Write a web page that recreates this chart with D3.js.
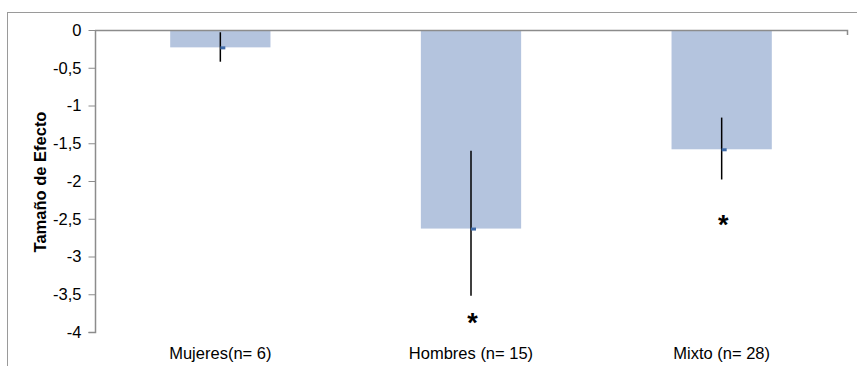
<!DOCTYPE html>
<html>
<head>
<meta charset="utf-8">
<script src="https://cdn.jsdelivr.net/npm/d3@7"></script>
<style>
  html, body { margin: 0; padding: 0; background: #fff; }
  svg { display: block; font-family: "Liberation Sans", Arial, sans-serif; }
</style>
</head>
<body>
<svg id="chart" width="857" height="366"></svg>
<script>
// Effect size by sample group, with confidence interval bounds
const categories = ["Mujeres(n= 6)", "Hombres (n= 15)", "Mixto (n= 28)"];
const effectSize = [-0.23, -2.63, -1.58];
const ciUpper = [-0.03, -1.60, -1.16];
const ciLower = [-0.42, -3.52, -1.98];
// Position of the significance asterisk (null = not significant)
const sigPosition = [null, -3.81, -2.52];
const yTicks = [0, -0.5, -1, -1.5, -2, -2.5, -3, -3.5, -4];

const svg = d3.select("#chart");
const W = 857, H = 366;
const left = 95, plotRight = 847;
const fontSize = "16.5px";

// Outer chart frame (extends beyond the visible area on the right and bottom)
svg.append("rect")
  .attr("x", 7.5).attr("y", 12.5)
  .attr("width", W).attr("height", H)
  .attr("fill", "none").attr("stroke", "#9a9a9a").attr("stroke-width", 1);

const x = d3.scaleBand()
  .domain(categories)
  .range([left, plotRight])
  .paddingInner(0.6)
  .paddingOuter(0.3);

const y = d3.scaleLinear()
  .domain([0, -4])
  .range([30, 332]);

// Bars
svg.selectAll("rect.bar")
  .data(categories)
  .enter().append("rect")
  .attr("class", "bar")
  .attr("x", d => x(d))
  .attr("width", x.bandwidth())
  .attr("y", y(0))
  .attr("height", (d, i) => y(effectSize[i]) - y(0))
  .attr("fill", "#b4c4de");

// Horizontal zero line with small end tick
svg.append("path")
  .attr("d", `M${left},${y(0) + 0.5}H${plotRight + 0.5}V${y(0) + 5}`)
  .attr("fill", "none").attr("stroke", "#8c8c8c").attr("stroke-width", 1.5);

// Y axis
const yAxis = d3.axisLeft(y)
  .tickValues(yTicks)
  .tickSize(7)
  .tickPadding(7)
  .tickFormat(d => d3.format("")(d).replace(".", ",").replace("−", "-"));

const gy = svg.append("g")
  .attr("transform", `translate(${left + 0.5},0)`)
  .call(yAxis);
gy.select(".domain").attr("stroke", "#8c8c8c").attr("stroke-width", 1.5)
  .attr("d", `M-7,${y(-4) + 0.5}H0V${y(0)}`);
gy.selectAll(".tick line").attr("stroke", "#8c8c8c").attr("stroke-width", 1);
gy.selectAll(".tick text")
  .attr("fill", "#000")
  .style("font-size", fontSize)
  .style("font-family", "\"Liberation Sans\", Arial, sans-serif");

// Error bars
svg.selectAll("line.err")
  .data(categories)
  .enter().append("line")
  .attr("class", "err")
  .attr("x1", d => x(d) + x.bandwidth() / 2)
  .attr("x2", d => x(d) + x.bandwidth() / 2)
  .attr("y1", (d, i) => y(ciUpper[i]))
  .attr("y2", (d, i) => y(ciLower[i]))
  .attr("stroke", "#000").attr("stroke-width", 1.5);

// Mean markers
svg.selectAll("rect.mark")
  .data(categories)
  .enter().append("rect")
  .attr("class", "mark")
  .attr("x", d => x(d) + x.bandwidth() / 2)
  .attr("y", (d, i) => y(effectSize[i]) - 1)
  .attr("width", 5).attr("height", 3)
  .attr("fill", "#3e6aa8");

// Significance markers
svg.selectAll("text.sig")
  .data(categories.map((d, i) => ({ cat: d, v: sigPosition[i] })).filter(d => d.v !== null))
  .enter().append("text")
  .attr("class", "sig")
  .attr("x", d => x(d.cat) + x.bandwidth() / 2 + 1.5)
  .attr("y", d => y(d.v) + 14)
  .attr("text-anchor", "middle")
  .style("font-size", "27px")
  .style("font-weight", "bold")
  .text("*");

// Category labels
svg.selectAll("text.cat")
  .data(categories)
  .enter().append("text")
  .attr("class", "cat")
  .attr("x", d => x(d) + x.bandwidth() / 2)
  .attr("y", 359)
  .attr("text-anchor", "middle")
  .style("font-size", fontSize)
  .text(d => d);

// Y axis title
svg.append("text")
  .attr("transform", `translate(46,182) rotate(-90)`)
  .attr("text-anchor", "middle")
  .style("font-size", fontSize)
  .style("font-weight", "bold")
  .text("Tamaño de Efecto");
</script>
</body>
</html>
